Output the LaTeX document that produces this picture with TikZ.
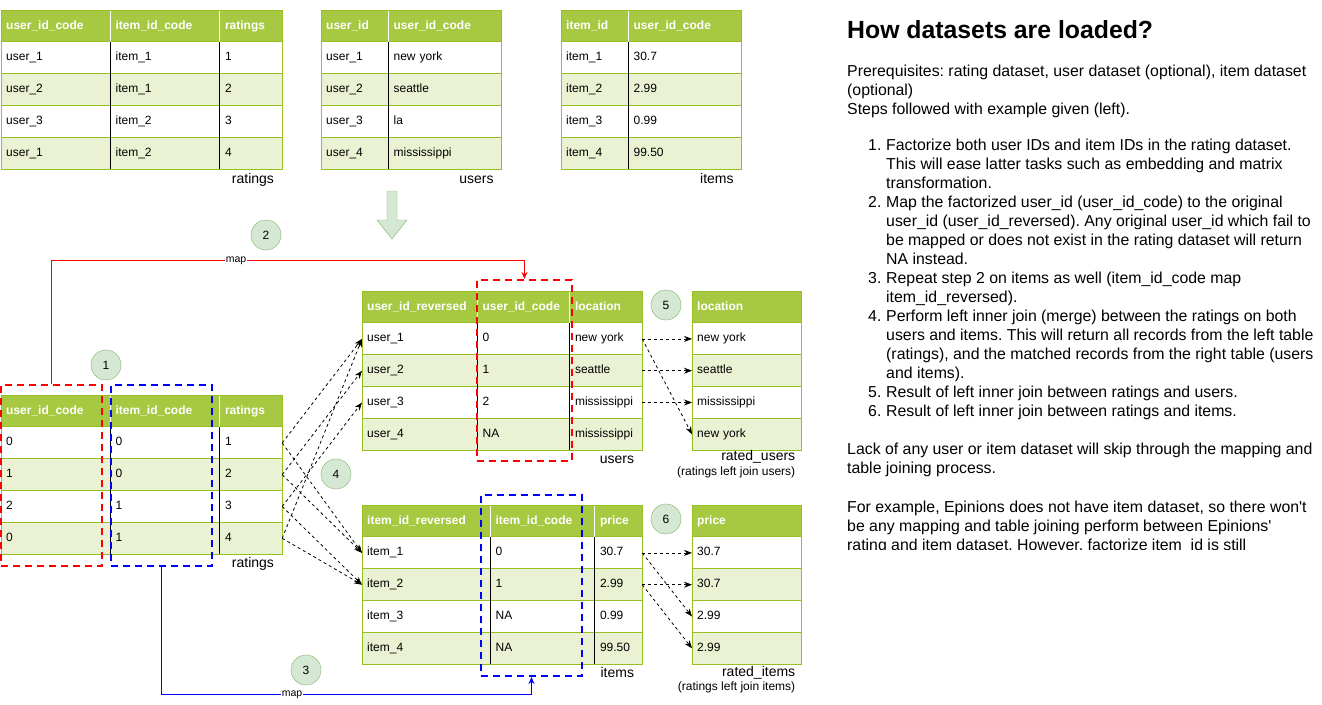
\documentclass[tikz,border=0pt]{standalone}
\usepackage{fontspec}
\setmainfont{Liberation Sans}
\usetikzlibrary{calc,arrows.meta}

\definecolor{headgreen}{HTML}{A7C942}
\definecolor{rowgreen}{HTML}{EAF2D3}
\definecolor{linegreen}{HTML}{98BF21}
\definecolor{stepfill}{HTML}{D5E8D4}
\definecolor{stepline}{HTML}{82B366}

\tikzset{
	dbcell/.style={anchor=north west, rectangle, inner xsep=5pt, inner ysep=0pt,
		minimum height=31.8pt, text height=9pt, text depth=3pt, align=left},
	rowline/.style={linegreen, line width=1pt},
	sepline/.style={black, line width=1pt},
	headsep/.style={white, line width=1pt},
	tableborder/.style={linegreen, line width=1pt},
	tabcap/.style={anchor=east, inner sep=0pt, text height=10pt, text depth=3pt, font=\fontsize{14}{16}\selectfont},
	tabnote/.style={anchor=east, inner sep=0pt, text height=9pt, text depth=3pt, font=\fontsize{12}{14}\selectfont},
	stepmark/.style={circle, fill=stepfill, draw=stepline, minimum size=30pt, inner sep=0pt, font=\fontsize{12}{14}\selectfont},
	codebox/.style={draw=#1, dash pattern=on 7pt off 5pt, line width=2pt, inner sep=0pt},
	maplink/.style={draw=#1, line width=1pt, -{Stealth[length=7pt,width=6pt]}},
	maplabel/.style={fill=white, inner sep=0.5pt, font=\fontsize{10.5}{12}\selectfont},
	joinlink/.style={black, dash pattern=on 3pt off 3pt, line width=0.8pt, -{Stealth[length=8pt,width=6pt]}},
	bodytext/.style={anchor=base west, align=left, inner sep=0pt, font=\fontsize{15.85}{19}\selectfont\frenchspacing},
}

% table: name, origin, column widths (at least two), number of columns, rows (header first)
\newcommand{\dbtable}[5]{%
	\foreach \rowcells [count=\rr from 0] in {#5} {
		\ifnum\rr=0
			\def\rowfill{headgreen}\def\rowtext{white}\def\rowfont{\bfseries}%
		\else\ifodd\rr
			\def\rowfill{white}\def\rowtext{black}\def\rowfont{}%
		\else
			\def\rowfill{rowgreen}\def\rowtext{black}\def\rowfont{}%
		\fi\fi
		\foreach \cellval [count=\cc] in \rowcells {
			\pgfmathsetmacro\cw{{#3}[\cc-1]-10}
			\pgfmathtruncatemacro\prevcc{\cc-1}
			\ifnum\cc=1
				\node[dbcell, fill=\rowfill, text=\rowtext, font=\fontsize{12}{14}\selectfont\rowfont, text width=\cw pt]
					(#1-\rr-\cc) at ($#2+(0,\rr*31.8)$) {\cellval};
			\else
				\node[dbcell, fill=\rowfill, text=\rowtext, font=\fontsize{12}{14}\selectfont\rowfont, text width=\cw pt]
					(#1-\rr-\cc) at (#1-\rr-\prevcc.north east) {\cellval};
			\fi
		}
	}
	\foreach \rr in {1,...,4}
		\draw[rowline] (#1-\rr-1.north west) -- (#1-\rr-#4.north east);
	\ifnum#4>1
		\foreach \cc in {2,...,#4} {
			\draw[sepline] (#1-1-\cc.north west) -- (#1-4-\cc.south west);
			\draw[headsep] (#1-0-\cc.north west) -- (#1-0-\cc.south west);
		}
	\fi
	\draw[tableborder] (#1-0-1.north west) rectangle (#1-4-#4.south east);
}

\newcommand{\stepno}[1]{\hspace*{21pt}\makebox[18pt][l]{#1}}
\newcommand{\stepgap}{\hspace*{39pt}}

\begin{document}
\begin{tikzpicture}[x=1pt, y=-1pt]
	\useasboundingbox (0,0) rectangle (1322,704);

	% input datasets
	\dbtable{rt}{(1,10)}{109,109,62}{3}{{user\_id\_code,item\_id\_code,ratings},{user\_1,item\_1,1},{user\_2,item\_1,2},{user\_3,item\_2,3},{user\_1,item\_2,4}}
	\dbtable{ut}{(321,10)}{67,113}{2}{{user\_id,user\_id\_code},{user\_1,new york},{user\_2,seattle},{user\_3,la},{user\_4,mississippi}}
	\dbtable{it}{(561,10)}{67,113}{2}{{item\_id,user\_id\_code},{item\_1,30.7},{item\_2,2.99},{item\_3,0.99},{item\_4,99.50}}

	\node[tabcap] (rt-cap) at ($(rt-4-3.south east)+(-8,11)$) {ratings};
	\node[tabcap] (ut-cap) at ($(ut-4-2.south east)+(-8,11)$) {users};
	\node[tabcap] (it-cap) at ($(it-4-2.south east)+(-8,11)$) {items};

	\filldraw[fill=stepfill, draw=stepline] (387,191) -- (397,191) -- (397,220) -- (407,220)
		-- (392,239) -- (377,220) -- (387,220) -- cycle;

	% factorized and mapped tables
	\dbtable{rf}{(1,395)}{109,109,62}{3}{{user\_id\_code,item\_id\_code,ratings},{0,0,1},{1,0,2},{2,1,3},{0,1,4}}
	\dbtable{um}{(362,291)}{115,92,72}{3}{{user\_id\_reversed,user\_id\_code,location},{user\_1,0,new york},{user\_2,1,seattle},{user\_3,2,mississippi},{user\_4,NA,mississippi}}
	\dbtable{ru}{(692,291)}{109,109}{1}{{location},{new york},{seattle},{mississippi},{new york}}
	\dbtable{im}{(362,505)}{128,104,47}{3}{{item\_id\_reversed,item\_id\_code,price},{item\_1,0,30.7},{item\_2,1,2.99},{item\_3,NA,0.99},{item\_4,NA,99.50}}
	\dbtable{ri}{(692,505)}{109,109}{1}{{price},{30.7},{30.7},{2.99},{2.99}}

	\node[tabcap] (rf-cap) at ($(rf-4-3.south east)+(-8,10)$) {ratings};
	\node[tabcap] (um-cap) at ($(um-4-3.south east)+(-8,10)$) {users};
	\node[tabcap] (ru-cap) at ($(ru-4-1.south east)+(-6,7)$) {rated\_users};
	\node[tabnote] (ru-note) at ($(ru-4-1.south east)+(-6,22)$) {(ratings left join users)};
	\node[tabcap] (im-cap) at ($(im-4-3.south east)+(-8,10)$) {items};
	\node[tabcap] (ri-cap) at ($(ri-4-1.south east)+(-6,9)$) {rated\_items};
	\node[tabnote] (ri-note) at ($(ri-4-1.south east)+(-6,23)$) {(ratings left join items)};

	% id code columns
	\node[codebox=red, minimum width=101pt, minimum height=181pt] (uleft) at (51.5,475.5) {};
	\node[codebox=blue, minimum width=101pt, minimum height=181pt] (ileft) at (161.5,475.5) {};
	\node[codebox=red, minimum width=95pt, minimum height=181pt] (uright) at (524.5,370.5) {};
	\node[codebox=blue, minimum width=101pt, minimum height=181pt] (iright) at (531.5,585.5) {};

	\coordinate (umap) at (236,260.5);
	\coordinate (imap) at (292,694.5);
	\draw[maplink=red] (uleft.north) |- (umap) -| (uright.north);
	\draw[maplink=blue] (ileft.south) |- (imap) -| (iright.south);
	\node[maplabel] (umap-text) at (umap) {map};
	\node[maplabel] (imap-text) at (imap) {map};

	% joins
	\foreach \a/\b in {1/1,2/2,3/3,4/1}
		\draw[joinlink] (rf-\a-3.east) -- (um-\b-1.west);
	\foreach \a/\b in {1/1,2/1,3/2,4/2}
		\draw[joinlink] (rf-\a-3.east) -- (im-\b-1.west);
	\foreach \a/\b in {1/1,1/4,2/2,3/3}
		\draw[joinlink] (um-\a-3.east) -- (ru-\b-1.west);
	\foreach \a/\b in {1/1,1/3,2/2,2/4}
		\draw[joinlink] (im-\a-3.east) -- (ri-\b-1.west);

	% steps
	\node[stepmark] (s1) at (106,365) {1};
	\node[stepmark] (s2) at (266,235) {2};
	\node[stepmark] (s3) at (306,670) {3};
	\node[stepmark] (s4) at (336,474) {4};
	\node[stepmark] (s5) at (666,305) {5};
	\node[stepmark] (s6) at (666,519) {6};

	% notes (multi-line nodes sit on the baseline of their last line)
	\begin{scope}
		\clip (840,0) rectangle (1322,549.5);
		\node[anchor=base west, inner sep=0pt, font=\bfseries\fontsize{24.8}{28}\selectfont] (title) at (847,38.3) {How datasets are loaded?};
		\node[bodytext] (prereq) at (847,114.6) {Prerequisites: rating dataset, user dataset (optional), item dataset\\
			(optional)\\
			Steps followed with example given (left).};
		\node[bodytext] (steplist) at (847,416.7) {\stepno{1.}Factorize both user IDs and item IDs in the rating dataset.\\
			\stepgap This will ease latter tasks such as embedding and matrix\\
			\stepgap transformation.\\
			\stepno{2.}Map the factorized user\_id (user\_id\_code) to the original\\
			\stepgap user\_id (user\_id\_reversed). Any original user\_id which fail to\\
			\stepgap be mapped or does not exist in the rating dataset will return\\
			\stepgap NA instead.\\
			\stepno{3.}Repeat step 2 on items as well (item\_id\_code map\\
			\stepgap item\_id\_reversed).\\
			\stepno{4.}Perform left inner join (merge) between the ratings on both\\
			\stepgap users and items. This will return all records from the left table\\
			\stepgap (ratings), and the matched records from the right table (users\\
			\stepgap and items).\\
			\stepno{5.}Result of left inner join between ratings and users.\\
			\stepno{6.}Result of left inner join between ratings and items.};
		\node[bodytext] (lack) at (847,473) {Lack of any user or item dataset will skip through the mapping and\\
			table joining process.};
		\node[bodytext] (epinions) at (847,550) {For example, Epinions does not have item dataset, so there won\textquotesingle t\\
			be any mapping and table joining perform between Epinions\textquotesingle\\
			rating and item dataset. However, factorize item\_id is still};
	\end{scope}
\end{tikzpicture}
\end{document}
